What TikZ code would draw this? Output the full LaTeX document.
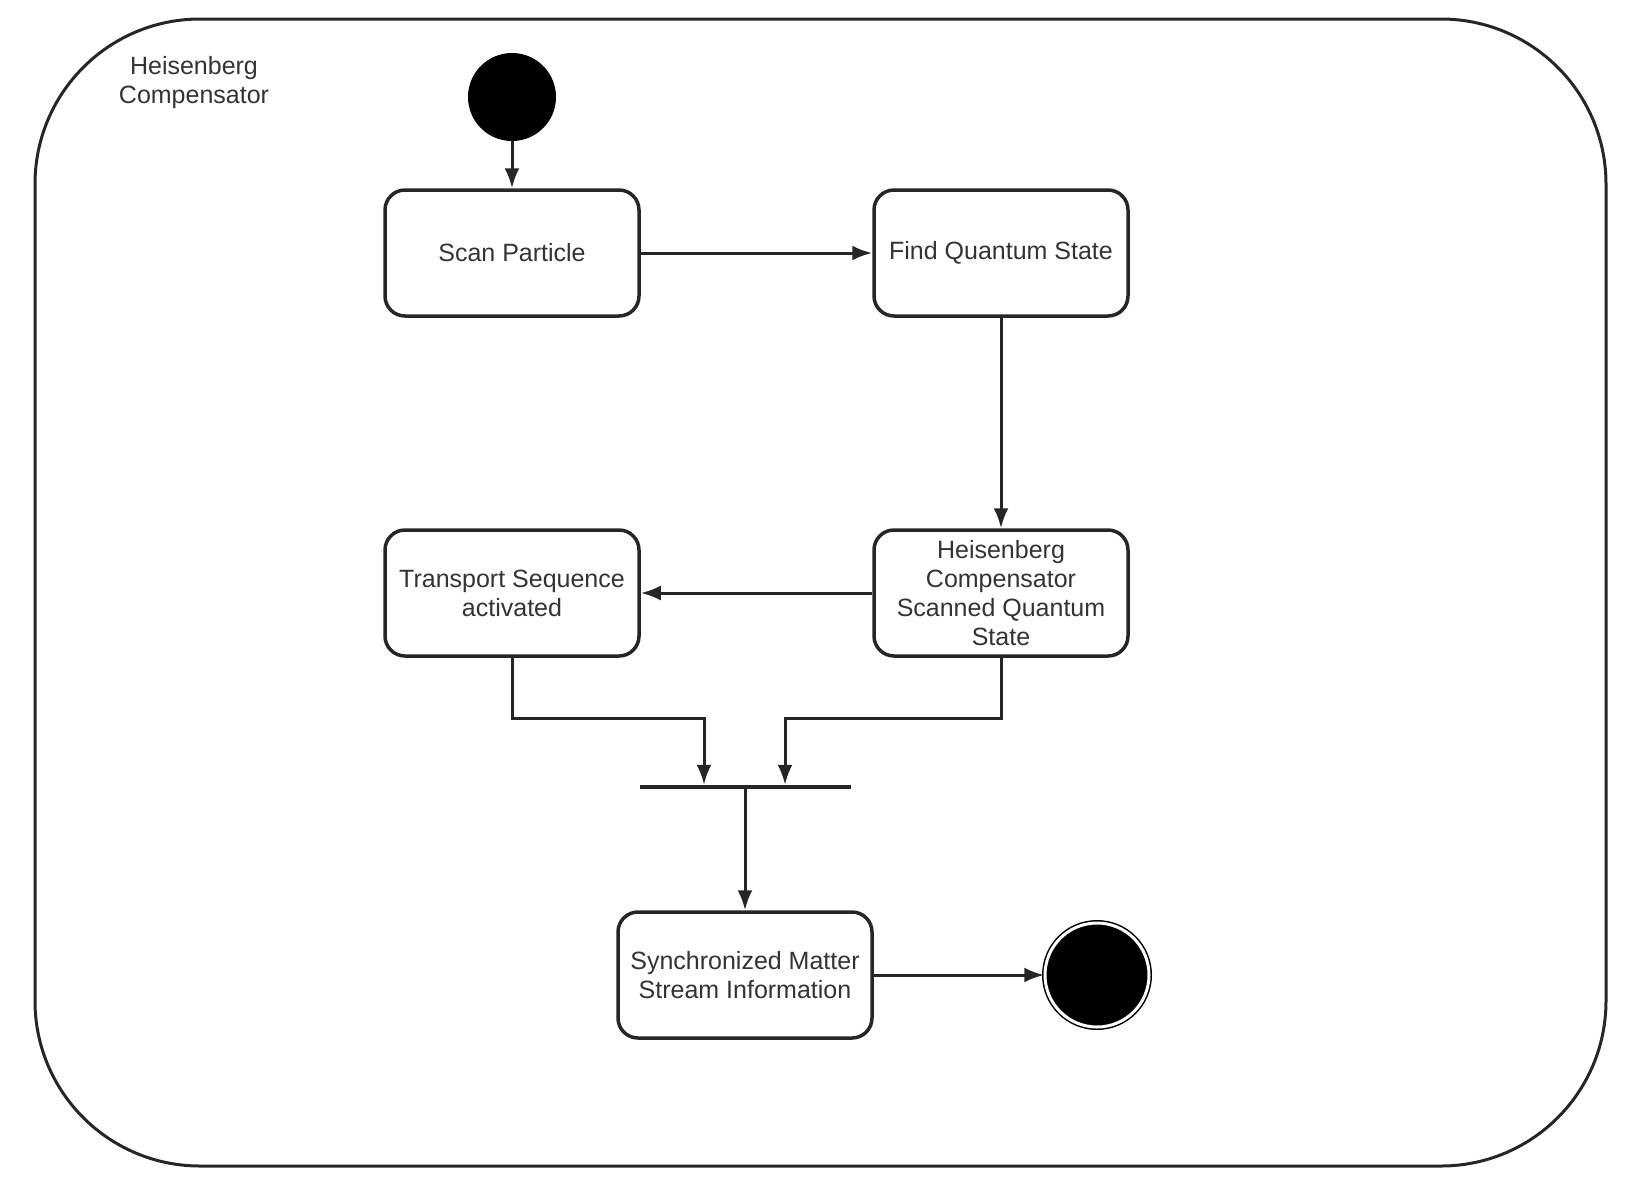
\documentclass[tikz,border=0pt]{standalone}
\usepackage{fontspec}
\setmainfont{Liberation Sans}
\usetikzlibrary{arrows.meta,positioning}

\begin{document}
\begin{tikzpicture}[x=1pt,y=-1pt,
        state/.style={draw=black!85, line width=3.5pt, rounded corners=20pt,
            minimum width=254pt, minimum height=126pt, inner sep=4pt,
            align=center, text=black!80, font=\fontsize{25}{29}\selectfont},
        trans/.style={draw=black!85, line width=3pt, -{Latex[length=20pt,width=15pt]}}]
        \useasboundingbox (0,0) rectangle (1634,1187);

        % Draw the outer composite state
        \draw[black!85, line width=3pt, rounded corners=165pt] (35,19) rectangle (1606,1166);
        \node[align=center, text=black!80, font=\fontsize{25}{29}\selectfont] (title) at (194,83) {Heisenberg\\Compensator};

        % Initial and final states
        \node[circle, fill=black, minimum size=88pt, inner sep=0pt] (init) at (512,97) {};
        \node[circle, fill=black, draw=black, line width=1.5pt, double=white, double distance=3pt,
            minimum size=104pt, inner sep=0pt] (final) at (1097,975) {};

        % The states
        \node[state] (scan) at (512,253) {Scan Particle};
        \node[state] (find) at (1001,253) {Find Quantum State};
        \node[state] (comp) at (1001,593) {Heisenberg\\Compensator\\Scanned Quantum\\State};
        \node[state] (transport) at (512,593) {Transport Sequence\\activated};
        \node[state] (sync) at (745,975) {Synchronized Matter\\Stream Information};

        % Join bar
        \node[fill=black!85, minimum width=211pt, minimum height=4pt, inner sep=0pt] (join) at (745,787) {};
        \coordinate (jl) at (704,718);
        \coordinate (jr) at (785,718);

        % Transitions
        \draw[trans] (init) -- (scan);
        \draw[trans] (scan) -- (find);
        \draw[trans] (find) -- (comp);
        \draw[trans] (comp) -- (transport);
        \draw[trans] (transport.south) |- (jl) -- (jl |- join.north);
        \draw[trans] (comp.south) |- (jr) -- (jr |- join.north);
        \draw[trans] (join) -- (sync);
        \draw[trans] (sync) -- (final);
    \end{tikzpicture}
\end{document}
